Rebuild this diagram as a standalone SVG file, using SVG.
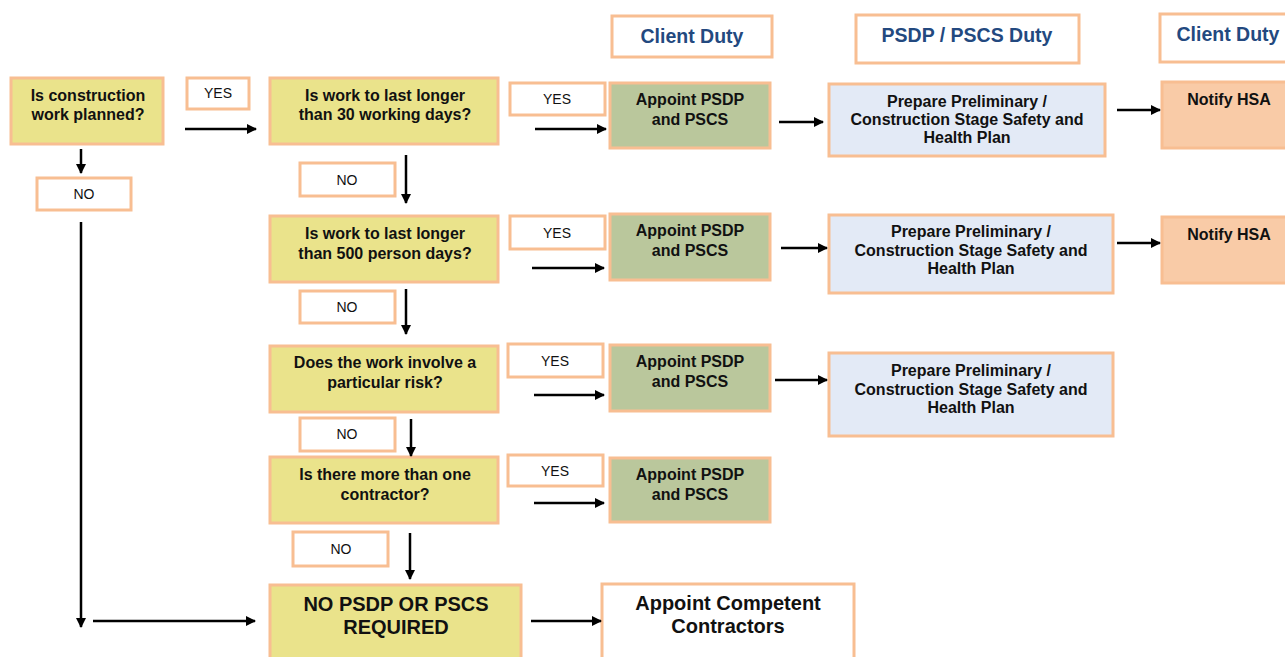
<svg xmlns="http://www.w3.org/2000/svg" width="1285" height="657" viewBox="0 0 1285 657">
  <style>
    .box { stroke: #F8BE92; stroke-width: 3; }
    .q { fill: #EAE38B; }
    .appoint { fill: #BAC79C; }
    .plan { fill: #E3EAF6; }
    .hsa { fill: #F9CBA7; }
    .plain { fill: #FFFFFF; }
    text { font-family: "Liberation Sans", Arial, sans-serif; fill: #111111; text-anchor: middle; }
    .b { font-weight: bold; font-size: 16px; }
    .lbl { font-size: 14px; }
    .hdr { font-weight: bold; font-size: 19.5px; fill: #23497F; }
    .big { font-weight: bold; font-size: 20px; }
    .conn { stroke: #000000; stroke-width: 2.5; fill: none; marker-end: url(#arrow); }
  </style>
  <defs>
    <marker id="arrow" viewBox="0 0 10 10" refX="9" refY="5" markerWidth="4" markerHeight="4" orient="auto" markerUnits="strokeWidth">
      <path d="M0,0 L10,5 L0,10 z" fill="#000000"/>
    </marker>
  </defs>
  <rect width="1285" height="657" fill="#FFFFFF"/>

  <!-- column headers -->
  <g id="hdr-client-1"><rect class="box plain" x="612" y="16" width="160" height="41"/><text class="hdr" x="692" y="43">Client Duty</text></g>
  <g id="hdr-psdp"><rect class="box plain" x="856" y="15" width="223" height="48"/><text class="hdr" x="967" y="42">PSDP / PSCS Duty</text></g>
  <g id="hdr-client-2"><rect class="box plain" x="1160" y="14" width="135" height="48"/><text class="hdr" x="1228" y="41">Client Duty</text></g>

  <!-- decision column -->
  <g id="q0"><rect class="box q" x="11" y="78" width="152" height="66"/><text class="b" x="88" y="101">Is construction</text><text class="b" x="88" y="120">work planned?</text></g>
  <g id="q1"><rect class="box q" x="270" y="78" width="228" height="66"/><text class="b" x="385" y="101">Is work to last longer</text><text class="b" x="385" y="120">than 30 working days?</text></g>
  <g id="q2"><rect class="box q" x="270" y="216" width="228" height="66"/><text class="b" x="385" y="239">Is work to last longer</text><text class="b" x="385" y="259">than 500 person days?</text></g>
  <g id="q3"><rect class="box q" x="270" y="346" width="228" height="66"/><text class="b" x="385" y="368">Does the work involve a</text><text class="b" x="385" y="388">particular risk?</text></g>
  <g id="q4"><rect class="box q" x="270" y="457" width="228" height="66"/><text class="b" x="385" y="480">Is there more than one</text><text class="b" x="385" y="500">contractor?</text></g>
  <g id="none"><rect class="box q" x="270" y="585" width="251" height="80"/><text class="big" x="396" y="611">NO PSDP OR PSCS</text><text class="big" x="396" y="634">REQUIRED</text></g>
  <g id="competent"><rect class="box plain" x="602" y="584" width="252" height="80"/><text class="big" x="728" y="610">Appoint Competent</text><text class="big" x="728" y="633">Contractors</text></g>

  <!-- client appointments -->
  <g id="appoint-1"><rect class="box appoint" x="610" y="83" width="160" height="65"/><text class="b" x="690" y="105">Appoint PSDP</text><text class="b" x="690" y="125">and PSCS</text></g>
  <g id="appoint-2"><rect class="box appoint" x="610" y="214" width="160" height="66"/><text class="b" x="690" y="236">Appoint PSDP</text><text class="b" x="690" y="256">and PSCS</text></g>
  <g id="appoint-3"><rect class="box appoint" x="610" y="345" width="160" height="66"/><text class="b" x="690" y="367">Appoint PSDP</text><text class="b" x="690" y="387">and PSCS</text></g>
  <g id="appoint-4"><rect class="box appoint" x="610" y="458" width="160" height="64"/><text class="b" x="690" y="480">Appoint PSDP</text><text class="b" x="690" y="500">and PSCS</text></g>

  <!-- safety and health plans -->
  <g id="plan-1"><rect class="box plan" x="829" y="84" width="276" height="72"/><text class="b" x="967" y="107">Prepare Preliminary /</text><text class="b" x="967" y="125">Construction Stage Safety and</text><text class="b" x="967" y="143">Health Plan</text></g>
  <g id="plan-2"><rect class="box plan" x="829" y="215" width="284" height="78"/><text class="b" x="971" y="237">Prepare Preliminary /</text><text class="b" x="971" y="256">Construction Stage Safety and</text><text class="b" x="971" y="274">Health Plan</text></g>
  <g id="plan-3"><rect class="box plan" x="829" y="353" width="284" height="83"/><text class="b" x="971" y="376">Prepare Preliminary /</text><text class="b" x="971" y="395">Construction Stage Safety and</text><text class="b" x="971" y="413">Health Plan</text></g>

  <!-- notifications -->
  <g id="hsa-1"><rect class="box hsa" x="1162" y="82" width="135" height="66"/><text class="b" x="1229" y="105">Notify HSA</text></g>
  <g id="hsa-2"><rect class="box hsa" x="1162" y="217" width="135" height="66"/><text class="b" x="1229" y="240">Notify HSA</text></g>

  <!-- yes / no labels -->
  <g id="labels">
    <rect class="box plain" x="187" y="78" width="62" height="31"/><text class="lbl" x="218" y="98">YES</text>
    <rect class="box plain" x="37" y="178" width="94" height="32"/><text class="lbl" x="84" y="199">NO</text>
    <rect class="box plain" x="510" y="83" width="95" height="32"/><text class="lbl" x="557" y="104">YES</text>
    <rect class="box plain" x="300" y="163" width="95" height="33"/><text class="lbl" x="347" y="185">NO</text>
    <rect class="box plain" x="510" y="216" width="95" height="33"/><text class="lbl" x="557" y="238">YES</text>
    <rect class="box plain" x="300" y="291" width="95" height="32"/><text class="lbl" x="347" y="312">NO</text>
    <rect class="box plain" x="508" y="344" width="95" height="33"/><text class="lbl" x="555" y="366">YES</text>
    <rect class="box plain" x="300" y="418" width="95" height="33"/><text class="lbl" x="347" y="439">NO</text>
    <rect class="box plain" x="508" y="455" width="95" height="31"/><text class="lbl" x="555" y="476">YES</text>
    <rect class="box plain" x="293" y="532" width="95" height="34"/><text class="lbl" x="341" y="554">NO</text>
  </g>

  <!-- connectors -->
  <g id="connectors">
    <line class="conn" x1="81" y1="149" x2="81" y2="173"/>
    <line class="conn" x1="185" y1="129" x2="256" y2="129"/>
    <line class="conn" x1="535" y1="129" x2="606" y2="129"/>
    <line class="conn" x1="779" y1="122" x2="823" y2="122"/>
    <line class="conn" x1="1117" y1="110" x2="1160" y2="110"/>
    <line class="conn" x1="406" y1="155" x2="406" y2="203"/>
    <line class="conn" x1="532" y1="268" x2="604" y2="268"/>
    <line class="conn" x1="781" y1="248" x2="827" y2="248"/>
    <line class="conn" x1="1117" y1="243" x2="1160" y2="243"/>
    <line class="conn" x1="406" y1="289" x2="406" y2="334"/>
    <line class="conn" x1="534" y1="395" x2="604" y2="395"/>
    <line class="conn" x1="775" y1="380" x2="827" y2="380"/>
    <line class="conn" x1="411" y1="419" x2="411" y2="456"/>
    <line class="conn" x1="534" y1="503" x2="604" y2="503"/>
    <line class="conn" x1="410" y1="533" x2="410" y2="579"/>
    <line class="conn" x1="81" y1="222" x2="81" y2="627"/>
    <line class="conn" x1="93" y1="621" x2="255" y2="621"/>
    <line class="conn" x1="531" y1="621" x2="601" y2="621"/>
  </g>
</svg>
